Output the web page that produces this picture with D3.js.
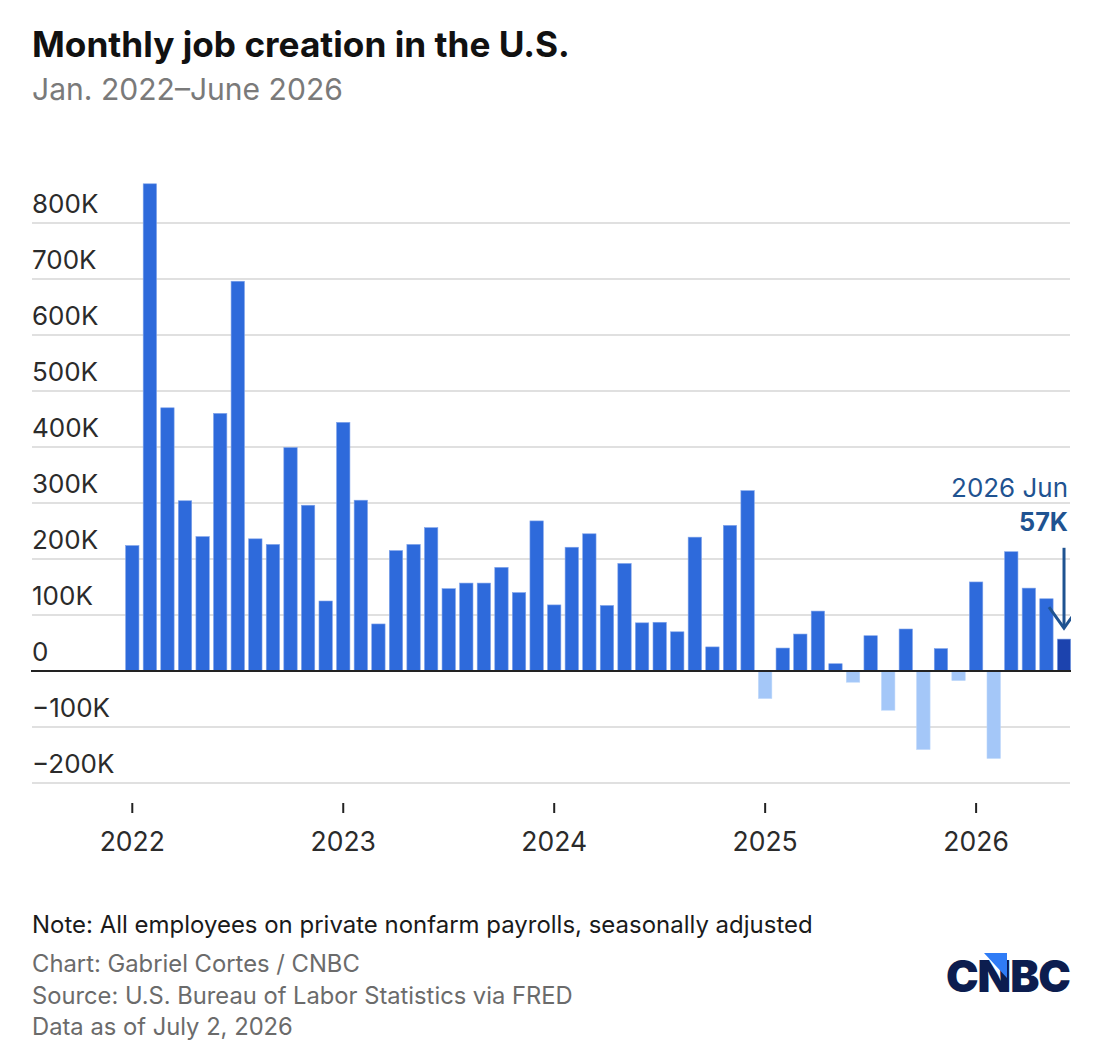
<!DOCTYPE html>
<html>
<head>
<meta charset="utf-8">
<script src="https://cdn.jsdelivr.net/npm/d3@7"></script>
<style>
  body { margin: 0; background: #fff; }
  svg { display: block; font-family: Inter, Lato, "Open Sans", sans-serif; }
</style>
</head>
<body>
<svg id="chart"></svg>
<script>
// monthly change in private payrolls, thousands, Jan 2022 - Jun 2026
var jobs2022 = [224, 870, 470, 304, 240, 460, 696, 236, 226, 399, 296, 125];
var jobs2023 = [444, 305, 84, 215, 226, 256, 147, 157, 157, 185, 140, 268];
var jobs2024 = [118, 221, 245, 117, 192, 86, 87, 70, 239, 43, 260, 322];
var jobs2025 = [-49, 41, 66, 107, 13, -20, 63, -70, 75, -140, 40, -17];
var jobs2026 = [159, -156, 213, 148, 129, 57];
var years = [2022, 2023, 2024, 2025, 2026];
var yTicks = [-200, -100, 0, 100, 200, 300, 400, 500, 600, 700, 800];
var footLines = [
  "Chart: Gabriel Cortes / CNBC",
  "Source: U.S. Bureau of Labor Statistics via FRED",
  "Data as of July 2, 2026"
];

var Chart = (function(){
    var width = 1114;
    var height = 1058;
    var left = 32, right = 1071;
    var svg, x, y, data;

    // Proxima-like widths: scale the font until the text spans w pixels
    function fit(sel, w){
        var len = sel.node().getComputedTextLength();
        sel.attr("font-size", +sel.attr("font-size") * w / len);
        return sel;
    }

    function buildData(){
        var all = [].concat(jobs2022, jobs2023, jobs2024, jobs2025, jobs2026);
        data = all.map(function(v, i){
            return { i: i, year: years[0] + Math.floor(i / 12), month: i % 12, value: v };
        });
    }

    function scales(){
        x = d3.scaleBand()
            .domain(data.map(d => d.i))
            .range([123.5, 1072.8])
            .paddingInner(0.24)
            .paddingOuter(0.12);
        y = d3.scaleLinear()
            .domain([-200, 800])
            .range([783, 223]);
    }

    function tickLabel(v){
        if (v === 0) return "0";
        return (v < 0 ? "\u2212" : "") + Math.abs(v) + "K";
    }

    function drawGrid(){
        var g = svg.append("g");
        g.selectAll("line")
            .data(yTicks.filter(t => t !== 0))
            .enter()
            .append("line")
                .attr("x1", left)
                .attr("x2", right - 1)
                .attr("y1", d => y(d))
                .attr("y2", d => y(d))
                .attr("stroke", "#d6d6d6")
                .attr("stroke-width", 1.5);
        g.selectAll("text")
            .data(yTicks)
            .enter()
            .append("text")
                .attr("x", left)
                .attr("y", d => y(d) - 10)
                .attr("fill", "#2b2b2b")
                .attr("font-size", 26)
                .text(tickLabel);
    }

    function drawBars(){
        var last = data.length - 1;
        svg.append("g")
            .selectAll("rect")
            .data(data)
            .enter()
            .append("rect")
                .attr("x", d => x(d.i))
                .attr("width", x.bandwidth())
                .attr("y", d => y(Math.max(0, d.value)))
                .attr("height", d => Math.abs(y(d.value) - y(0)))
                .attr("fill", d => d.i === last ? "#1c43ae" : (d.value < 0 ? "#a4c7f8" : "#2e6adb"))
                .attr("stroke", d => d.value < 0 ? "#b9d5fb" : "#7fa3ea")
                .attr("stroke-width", 0.6);

        svg.append("line")
            .attr("x1", left - 1)
            .attr("x2", right)
            .attr("y1", y(0))
            .attr("y2", y(0))
            .attr("stroke", "#222")
            .attr("stroke-width", 2);
    }

    function drawXAxis(){
        var janIdx = years.map((yr, k) => k * 12);
        var g = svg.append("g");
        g.selectAll("line")
            .data(janIdx)
            .enter()
            .append("line")
                .attr("x1", d => x(d) + x.bandwidth() / 2)
                .attr("x2", d => x(d) + x.bandwidth() / 2)
                .attr("y1", 803)
                .attr("y2", 813)
                .attr("stroke", "#222")
                .attr("stroke-width", 2);
        g.selectAll("text")
            .data(janIdx)
            .enter()
            .append("text")
                .attr("x", d => x(d) + x.bandwidth() / 2)
                .attr("y", 851)
                .attr("text-anchor", "middle")
                .attr("fill", "#2b2b2b")
                .attr("font-size", 26.5)
                .text((d, k) => years[k]);
    }

    function drawAnnotation(){
        var lastD = data[data.length - 1];
        var cx = x(lastD.i) + x.bandwidth() / 2;
        var col = "#1f5391";
        var tipY = y(lastD.value) - 11;

        svg.append("clipPath").attr("id", "plotclip")
            .append("rect").attr("x", 0).attr("y", 0).attr("width", right).attr("height", height);

        var g = svg.append("g").attr("clip-path", "url(#plotclip)");
        g.append("line")
            .attr("x1", cx).attr("x2", cx)
            .attr("y1", y(220)).attr("y2", tipY)
            .attr("stroke", col).attr("stroke-width", 3);
        g.append("path")
            .attr("d", d3.line()([[cx - 15, tipY - 21], [cx, tipY], [cx + 15, tipY - 21]]))
            .attr("fill", "none")
            .attr("stroke", col)
            .attr("stroke-width", 3);

        fit(svg.append("text")
            .attr("x", 1068).attr("y", 497)
            .attr("text-anchor", "end")
            .attr("fill", col)
            .attr("font-size", 24)
            .text("2026 Jun"), 117);
        fit(svg.append("text")
            .attr("x", 1068).attr("y", 531)
            .attr("text-anchor", "end")
            .attr("fill", col)
            .attr("font-size", 24)
            .attr("font-weight", 700)
            .text(lastD.value + "K"), 49);
    }

    function drawText(){
        fit(svg.append("text")
            .attr("x", left).attr("y", 57)
            .attr("font-size", 32)
            .attr("font-weight", 700)
            .attr("fill", "#111")
            .text("Monthly job creation in the U.S."), 538);
        fit(svg.append("text")
            .attr("x", left).attr("y", 100)
            .attr("font-size", 26)
            .attr("fill", "#7a7a7a")
            .text("Jan. 2022\u2013June 2026"), 311);

        fit(svg.append("text")
            .attr("x", left).attr("y", 933)
            .attr("font-size", 22)
            .attr("fill", "#1a1a1a")
            .text("Note: All employees on private nonfarm payrolls, seasonally adjusted"), 781);
        var widths = [328, 541, 261];
        svg.append("g")
            .selectAll("text")
            .data(footLines)
            .enter()
            .append("text")
                .attr("x", left)
                .attr("y", (d, i) => 972 + i * 31.5)
                .attr("font-size", 22)
                .attr("fill", "#6b6b6b")
                .text(d => d)
                .each(function(d, i){ fit(d3.select(this), widths[i]); });
    }

    function drawLogo(){
        var g = svg.append("g");
        fit(g.append("text")
            .attr("x", 1070).attr("y", 992)
            .attr("text-anchor", "end")
            .attr("font-size", 42)
            .attr("font-weight", 900)
            .attr("fill", "#0c1d4f")
            .attr("letter-spacing", -1)
            .text("CNBC"), 124);
        g.append("path")
            .attr("d", d3.line()([[984, 953], [1007, 953], [1007, 978]]) + "Z")
            .attr("fill", "#2f7cf6");
    }

    return {
        init: function(){
            svg = d3.select("#chart")
                .attr("width", width)
                .attr("height", height);
            buildData();
            scales();
            drawGrid();
            drawBars();
            drawXAxis();
            drawAnnotation();
            drawText();
            drawLogo();
        }
    }
})()

Chart.init()
</script>
</body>
</html>
